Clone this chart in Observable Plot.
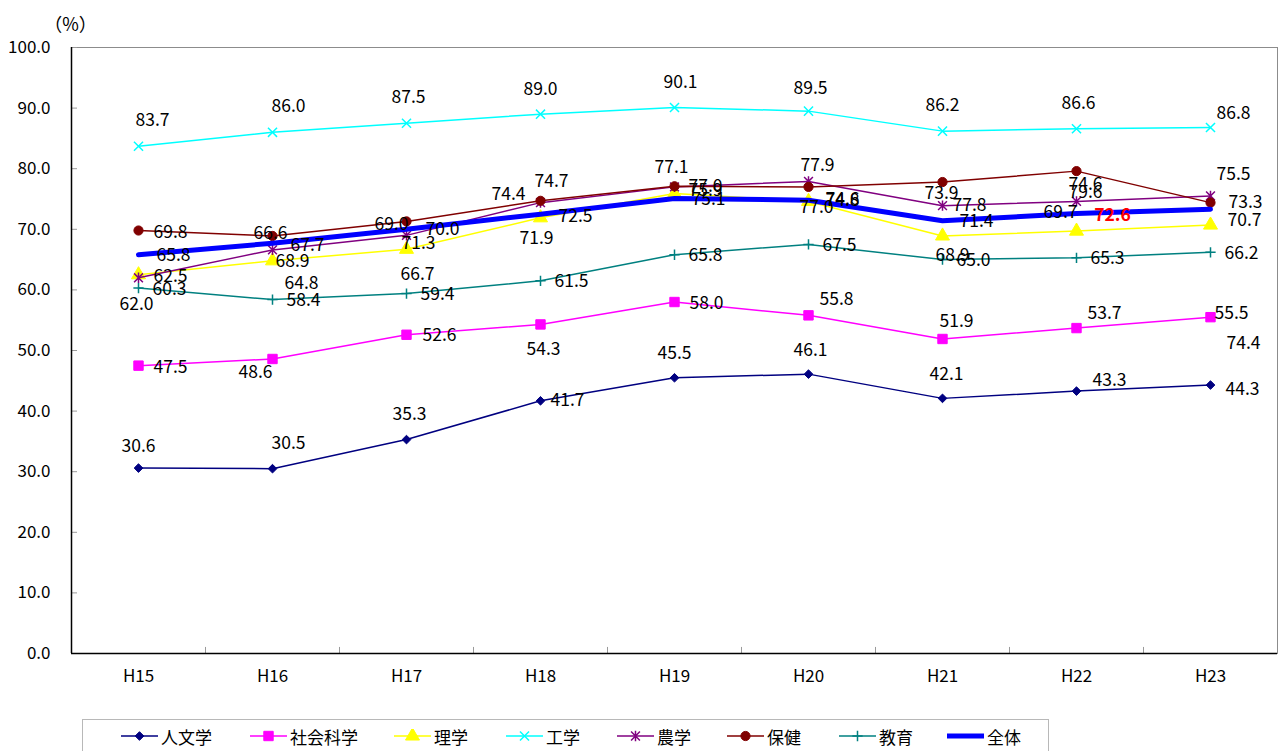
<!DOCTYPE html>
<html><head><meta charset="utf-8">
<script src="https://cdn.jsdelivr.net/npm/d3@7"></script>
<script src="https://cdn.jsdelivr.net/npm/@observablehq/plot@0.6"></script>
<style>
html,body{margin:0;padding:0;background:#fff;overflow:hidden;}
body{width:1279px;height:751px;position:relative;font-family:"Noto Sans CJK JP","Noto Sans",sans-serif;}
#chart{position:absolute;left:0;top:0;}
#legend{position:absolute;left:82px;top:719px;width:967px;height:40px;border:1px solid #b8b8b8;box-sizing:border-box;background:#fff;}
.item{position:absolute;top:7px;height:18px;display:flex;align-items:center;font-size:17px;color:#000;white-space:nowrap;}
.item svg{margin-right:3px;}
</style></head><body>
<div id="chart"></div><div id="legend"></div>
<script>
// ---- data ----
const years = ["H15","H16","H17","H18","H19","H20","H21","H22","H23"];
const seriesNames = ["人文学","社会科学","理学","工学","農学","保健","教育","全体"];
const jinbun = [30.6, 30.5, 35.3, 41.7, 45.5, 46.1, 42.1, 43.3, 44.3];
const shakai = [47.5, 48.6, 52.6, 54.3, 58.0, 55.8, 51.9, 53.7, 55.5];
const rigaku = [62.5, 64.8, 66.7, 71.9, 75.9, 74.6, 68.9, 69.7, 70.7];
const kogaku = [83.7, 86.0, 87.5, 89.0, 90.1, 89.5, 86.2, 86.6, 86.8];
const nogaku = [62.0, 66.6, 69.0, 74.4, 77.0, 77.9, 73.9, 74.6, 75.5];
const hoken  = [69.8, 68.9, 71.3, 74.7, 77.1, 77.0, 77.8, 79.6, 74.4];
const kyoiku = [60.3, 58.4, 59.4, 61.5, 65.8, 67.5, 65.0, 65.3, 66.2];
const zentai = [65.8, 67.7, 70.0, 72.5, 75.1, 74.8, 71.4, 72.6, 73.3];
const yTicks = [0,10,20,30,40,50,60,70,80,90,100];
const seriesValues = [jinbun, shakai, rigaku, kogaku, nogaku, hoken, kyoiku, zentai];

// ---- styles ----
const asteriskSym = {draw(ctx, size){ const r = Math.sqrt(size/Math.PI); const d = r*0.85;
  ctx.moveTo(-d,-d); ctx.lineTo(d,d); ctx.moveTo(-d,d); ctx.lineTo(d,-d); ctx.moveTo(0,-r); ctx.lineTo(0,r);} };
const styles = [
  {color:"#000080", symbol:"diamond2", r:3.9, filled:true,  width:1.5},
  {color:"#FF00FF", symbol:"square",   r:5.3, filled:true,  width:1.5},
  {color:"#FFFF00", symbol:"triangle", r:5.2, filled:true,  width:1.5},
  {color:"#00FFFF", symbol:"times",    r:4.2, filled:false, width:1.5},
  {color:"#800080", symbol:asteriskSym,r:5.2, filled:false, width:1.5},
  {color:"#800000", symbol:"circle",   r:4.6, filled:true,  width:1.5},
  {color:"#008080", symbol:"plus",     r:3.4, filled:false, width:1.5},
  {color:"#0000FF", symbol:null,       r:0,   filled:false, width:5}
];
// label nudges in pixels [dx, dy] per series per year
const labelNudge = [
  [[0,-22],[16,-25],[3,-25],[27,0],[0,-24],[2,-24],[4,-24],[33,-11],[32,4]],
  [[32,2],[-17,13],[33,1],[3,25],[32,1],[28,-16],[14,-18],[28,-15],[21,-4]],
  [[32,2],[29,23],[11,25],[-4,21],[31,-3],[34,-2],[10,19],[-16,-19],[34,-5]],
  [[14,-26],[16,-26],[2,-26],[0,-25],[6,-25],[2,-23],[0,-26],[2,-25],[23,-14]],
  [[-2,27],[-2,-17],[-15,-11],[-32,-8],[31,0],[9,-16],[-1,-12],[9,-17],[23,-22]],
  [[32,2],[20,25],[12,22],[11,-19],[-3,-19],[8,21],[27,23],[9,21],[33,141]],
  [[31,1],[31,1],[31,1],[31,1],[31,1],[31,1],[31,1],[31,1],[31,1]],
  [[35,1],[35,2],[36,0],[35,2],[34,1],[34,0],[34,1],[36,2],[35,-7]]
];
const highlight = {series: 7, year: 7};

// ---- build ----
const W = 1279, H = 700, mL = 71, mR = 2, mT = 47, mB = 47;
const step = (W - mL - mR) / years.length;
const font = "'Noto Sans CJK JP','Noto Sans',sans-serif";

const rows = [];
seriesNames.forEach((s, i) => seriesValues[i].forEach((v, j) => rows.push({series:s, si:i, yi:j, year:years[j], value:v})));

const marks = [
  Plot.frame({stroke:"#8c8c8c"}),
  Plot.ruleX(years.slice(1), {y1:0, y2:1, dx:-step/2, stroke:"#9a9a9a"}),
  Plot.tickY(yTicks.slice(1), {y:d=>d, x:()=>years[0], insetRight:step-6, stroke:"#9a9a9a"}),
  Plot.ruleY([0], {stroke:"#000", strokeWidth:1.5}),
  Plot.ruleX([years[0]], {dx:-step/2, stroke:"#000", strokeWidth:1.5}),
  Plot.axisY({ticks:yTicks, tickSize:0, tickPadding:21, tickFormat:d=>d.toFixed(1), fontSize:17, label:null}),
  Plot.axisX({tickSize:0, tickPadding:16, fontSize:17, label:null}),
  Plot.text(["（%）"], {frameAnchor:"top-left", text:d=>d, dx:-1, dy:-29, textAnchor:"middle", fontSize:18})
];
seriesNames.forEach((s, i) => {
  const st = styles[i];
  const d = rows.filter(r => r.si === i);
  marks.push(Plot.line(d, {x:"year", y:"value", stroke:st.color, strokeWidth:st.width}));
  if (st.symbol) {
    marks.push(Plot.dot(d, {x:"year", y:"value", symbol:()=>st.symbol, r:st.r,
      fill: st.filled ? st.color : "none", stroke: st.color, strokeWidth: st.filled ? 1 : 1.5}));
  }
});
rows.forEach(r => {
  const [dx, dy] = labelNudge[r.si][r.yi];
  const hi = r.si === highlight.series && r.yi === highlight.year;
  marks.push(Plot.text([r], {x:"year", y:"value", text:d=>d.value.toFixed(1), dx, dy,
    fill: hi ? "#FF0000" : "#000", fontWeight: hi ? "bold" : "normal", fontSize:17.5}));
});

const chart = Plot.plot({
  width:W, height:H, marginTop:mT, marginLeft:mL, marginRight:mR, marginBottom:mB,
  x:{type:"band", domain:years, padding:0, label:null},
  y:{domain:[0,100], label:null},
  symbol:{type:"identity"},
  style:{fontFamily:font, fontSize:"17px", background:"white", color:"#000", overflow:"visible"},
  marks
});
document.getElementById("chart").appendChild(chart);

// ---- legend ----
const legend = d3.select("#legend");
const legendLeft = [121,250,394,506,617,727,839,947];
seriesNames.forEach((s, i) => {
  const st = styles[i];
  const item = legend.append("div").attr("class","item").style("left", (legendLeft[i]-83)+"px");
  const svg = item.append("svg").attr("width",37).attr("height",14);
  svg.append("line").attr("x1",0).attr("x2",37).attr("y1",7).attr("y2",7).attr("stroke",st.color).attr("stroke-width",st.width);
  if (st.symbol) {
    const map = {diamond2:d3.symbolDiamond2, square:d3.symbolSquare, triangle:d3.symbolTriangle, times:d3.symbolTimes, circle:d3.symbolCircle, plus:d3.symbolPlus};
    const type = typeof st.symbol === "string" ? map[st.symbol] : st.symbol;
    svg.append("path").attr("transform","translate(18.5,7)")
      .attr("d", d3.symbol(type, Math.PI*st.r*st.r)())
      .attr("fill", st.filled ? st.color : "none").attr("stroke", st.color).attr("stroke-width", st.filled ? 1 : 1.5);
  }
  item.append("span").text(s);
});
</script></body></html>
